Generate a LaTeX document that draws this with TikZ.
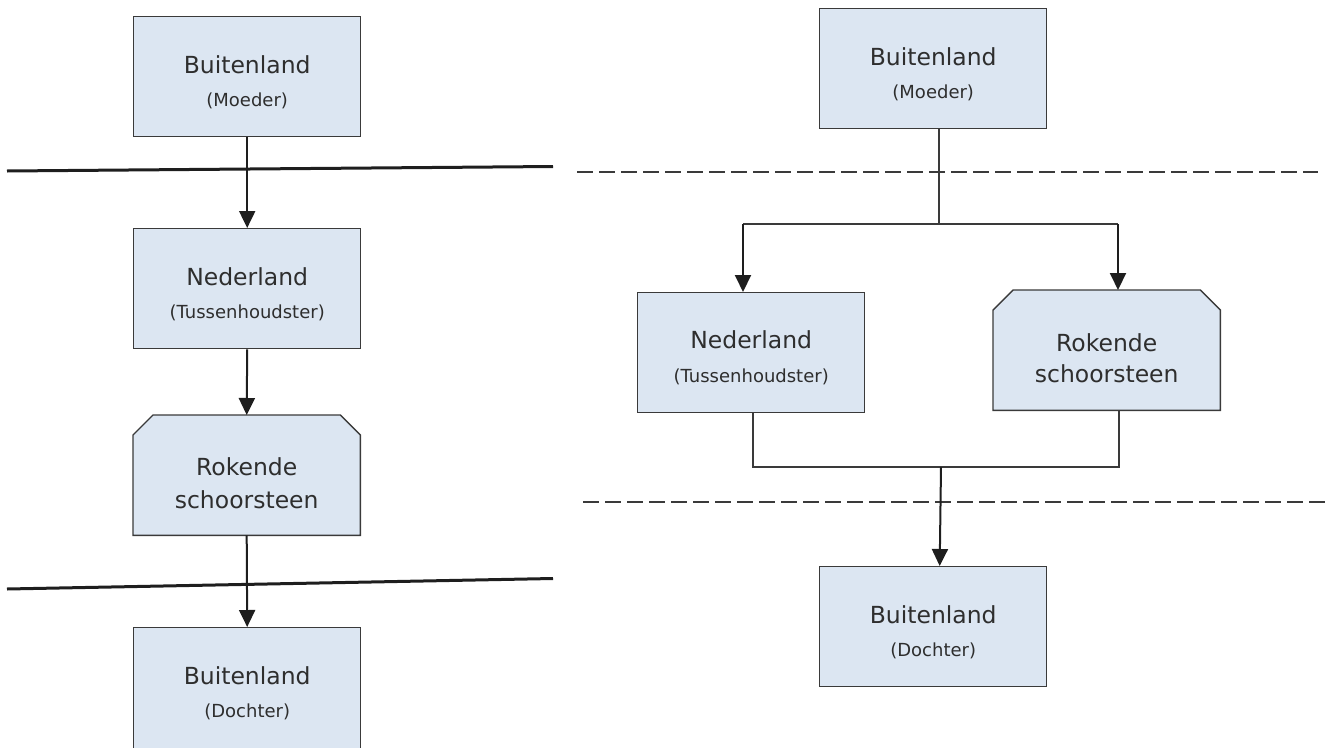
\documentclass[tikz,border=0pt]{standalone}
\usepackage{fontspec}
\setmainfont{DejaVu Sans}
\usetikzlibrary{arrows.meta}
\definecolor{boxfill}{HTML}{DCE6F2}
\definecolor{boxline}{HTML}{3A3A3A}
\definecolor{ink}{HTML}{2E2E2E}
\definecolor{wire}{HTML}{1E1E1E}
\tikzset{
  area/.style={minimum width=227pt, minimum height=120pt, inner sep=0pt, anchor=north west},
  box/.style={area, draw=boxline, fill=boxfill, line width=1.4pt},
  chamf/.style={draw=boxline, fill=boxfill, line width=1.4pt, line join=miter},
  title/.style={anchor=base, inner sep=0pt, text=ink, font=\fontsize{23.5}{28}\selectfont},
  sub/.style={anchor=base, inner sep=0pt, text=ink, font=\fontsize{18}{22}\selectfont},
  arr/.style={draw=wire, line width=2pt, -{Triangle[width=16pt,length=17pt]}},
  wireline/.style={draw=boxline, line width=1.6pt},
  border/.style={draw=wire, line width=3pt},
  dashline/.style={draw=boxline, line width=2.2pt, dash pattern=on 16pt off 6pt},
}
\newcommand\chamferbox[1]{%
  \path[chamf] (#1.south west) -- ([yshift=-20pt]#1.north west) -- ([xshift=20pt]#1.north west)
    -- ([xshift=-20pt]#1.north east) -- ([yshift=-20pt]#1.north east) -- (#1.south east) -- cycle;}
\begin{document}
\begin{tikzpicture}[x=1pt,y=-1pt]
  \useasboundingbox (0,0) rectangle (1330,747);
  \clip (0,0) rectangle (1330,747);

  % ---------- left: single chain ----------
  \node[box] (lm) at (133,16) {};
  \node[title] (lmt) at ([yshift=-57pt]lm.north) {Buitenland};
  \node[sub] (lms) at ([yshift=-90pt]lm.north) {(Moeder)};

  \node[box] (ln) at (133,228) {};
  \node[title] (lnt) at ([yshift=-57pt]ln.north) {Nederland};
  \node[sub] (lns) at ([yshift=-90pt]ln.north) {(Tussenhoudster)};

  \node[area] (lr) at (133,415) {};
  \chamferbox{lr}
  \node[title] (lrt) at ([yshift=-60pt]lr.north) {Rokende};
  \node[title] (lrs) at ([yshift=-93pt]lr.north) {schoorsteen};

  % this box runs past the lower edge of the page
  \node[box, minimum height=130pt] (ld) at (133,627) {};
  \node[title] (ldt) at ([yshift=-57pt]ld.north) {Buitenland};
  \node[sub] (lds) at ([yshift=-90pt]ld.north) {(Dochter)};

  \coordinate (b1a) at (7,171);
  \coordinate (b1b) at (553,166.5);
  \coordinate (b2a) at (7,589);
  \coordinate (b2b) at (553,578.5);
  \draw[border] (b1a) -- (b1b);
  \draw[border] (b2a) -- (b2b);

  \draw[arr] (lm.south) -- (ln.north);
  \draw[arr] (ln.south) -- (lr.north);
  \draw[arr] (lr.south) -- (ld.north);

  % ---------- right: split and join ----------
  \node[box] (rm) at (819,8) {};
  \node[title] (rmt) at ([yshift=-57pt]rm.north) {Buitenland};
  \node[sub] (rms) at ([yshift=-90pt]rm.north) {(Moeder)};

  \node[box] (rn) at (637,292) {};
  \node[title] (rnt) at ([yshift=-56pt]rn.north) {Nederland};
  \node[sub] (rns) at ([yshift=-90pt]rn.north) {(Tussenhoudster)};

  \node[area] (rr) at (993,290) {};
  \chamferbox{rr}
  \node[title] (rrt) at ([yshift=-61pt]rr.north) {Rokende};
  \node[title] (rrs) at ([yshift=-92pt]rr.north) {schoorsteen};

  \node[box] (rd) at (819,566) {};
  \node[title] (rdt) at ([yshift=-57pt]rd.north) {Buitenland};
  \node[sub] (rds) at ([yshift=-90pt]rd.north) {(Dochter)};

  \draw[dashline] (577,172) -- (1318,172);
  \draw[dashline] (583,502) -- (1327,502);

  \coordinate (trunk) at (939,224);
  \coordinate (ja) at (743,224);
  \coordinate (jb) at (1118,224);
  \draw[wireline] (trunk |- rm.south) -- (trunk);
  \draw[wireline] (ja) -- (jb);
  \draw[arr] (ja) -- (ja |- rn.north);
  \draw[arr] (jb) -- (jb |- rr.north);

  \coordinate (ka) at (753,467);
  \coordinate (kb) at (1119,467);
  \coordinate (kc) at (941,467);
  \draw[wireline] (ka |- rn.south) -- (ka) -- (kb) -- (kb |- rr.south);
  \draw[arr] (kc) -- ([xshift=6.5pt]rd.north);
\end{tikzpicture}
\end{document}
